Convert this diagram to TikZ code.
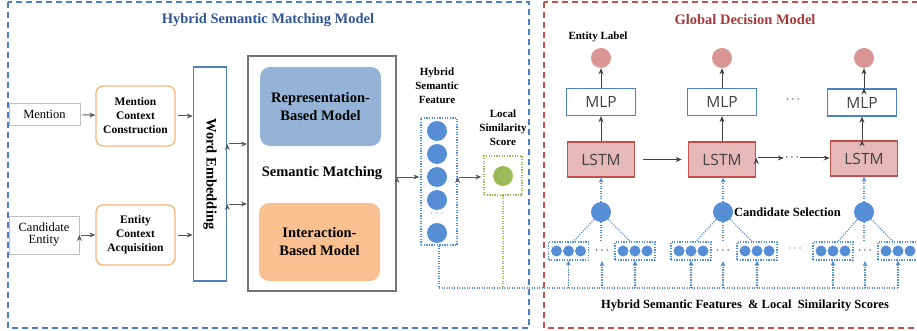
\documentclass[tikz,border=0pt]{standalone}
\usepackage{fontspec}
\setmainfont{Liberation Serif}
\newfontfamily\boxfont{Open Sans}
\usetikzlibrary{arrows.meta}
\definecolor{hsmblue}{HTML}{4A7EC4}
\definecolor{hsmtitle}{HTML}{2F5597}
\definecolor{gdmred}{HTML}{C0504D}
\definecolor{gdmtitle}{HTML}{A5393A}
\definecolor{ctxorange}{HTML}{F8B47A}
\definecolor{repfill}{HTML}{95B3D7}
\definecolor{intfill}{HTML}{FAC090}
\definecolor{embblue}{HTML}{4F81BD}
\definecolor{unitblue}{HTML}{558ED5}
\definecolor{scoregreen}{HTML}{9BBB59}
\definecolor{labelpink}{HTML}{D99694}
\definecolor{lstmfill}{HTML}{E6B9B8}
\definecolor{arrowgray}{HTML}{595959}
\begin{document}
\begin{tikzpicture}[x=1pt,y=-1pt,>={Stealth[length=6pt,width=5pt]}]
        \tikzstyle{region}=[line width=1.2pt,dash pattern=on 6pt off 4pt]
        \tikzstyle{title}=[font=\bfseries\fontsize{14.5}{16}\selectfont]
        \tikzstyle{input}=[draw=black!25,line width=0.8pt,inner sep=0,align=center,font=\fontsize{12.5}{14}\selectfont]
        \tikzstyle{context}=[draw=ctxorange,line width=1.3pt,rounded corners=7pt,inner sep=0,minimum width=79pt,minimum height=60pt,align=center,font=\bfseries\fontsize{11.5}{14}\selectfont]
        \tikzstyle{model}=[rounded corners=10pt,inner sep=0,minimum width=121pt,minimum height=79pt,align=center,font=\bfseries\fontsize{14.5}{18}\selectfont]
        \tikzstyle{featlabel}=[align=center,font=\bfseries\fontsize{11}{14}\selectfont]
        \tikzstyle{unit}=[circle,fill=unitblue,minimum size=20pt,inner sep=0]
        \tikzstyle{smallunit}=[circle,fill=unitblue,minimum size=11pt,inner sep=0]
        \tikzstyle{dotbox}=[draw=unitblue,line width=1.3pt,dash pattern=on 1.3pt off 1.3pt,inner sep=0]
        \tikzstyle{dotline}=[draw=unitblue,line width=1.2pt,dash pattern=on 1.2pt off 1.3pt]
        \tikzstyle{dotarrow}=[dotline,-{Stealth[length=5pt,width=5pt,fill=unitblue,line width=0pt]}]
        \tikzstyle{edge}=[draw=arrowgray,line width=1pt,->]
        \tikzstyle{mlp}=[draw=embblue,line width=1.3pt,fill=white,minimum width=69pt,minimum height=27pt,inner sep=0,font=\boxfont\fontsize{15.5}{16}\selectfont,text=black!75]
        \tikzstyle{lstm}=[draw=gdmred,line width=1.5pt,fill=lstmfill,minimum width=67pt,minimum height=35pt,inner sep=0,font=\boxfont\fontsize{15.5}{16}\selectfont,text=black!75]
        \tikzstyle{entout}=[circle,fill=labelpink,minimum size=20pt,inner sep=0]
        \useasboundingbox (0,0) rectangle (917,331);
       \begin{scope}
         \draw[region,draw=hsmblue] (8,2) rectangle (529,328);
         \node [title,text=hsmtitle] (hsmt) at (268,20) {Hybrid Semantic Matching Model};
         \node [input,minimum width=71pt,minimum height=22pt] (mention) at (44.5,114) {Mention};
         \node [input,minimum width=70pt,minimum height=38pt] (cand) at (44,235) {Candidate\\[-2pt]Entity};
         \node [context] (mcc) at (135.5,116) {Mention\\Context\\Construction};
         \node [context] (eca) at (135.5,235) {Entity\\Context\\Acquisition};
         \node [draw=embblue,line width=1.5pt,minimum width=33pt,minimum height=214pt,inner sep=0] (we) at (210,174) {};
         \node [rotate=-90,font=\bfseries\fontsize{14.5}{16}\selectfont] (wet) at (we.center) {Word Embedding};
         \node [draw=black!55,line width=2pt,minimum width=148pt,minimum height=235pt,inner sep=0] (sm) at (322,173.5) {};
         \node [model,fill=repfill] (rep) at (320.5,106.5) {Representation-\\Based Model};
         \node [model,fill=intfill,minimum height=78pt] (inter) at (319.5,242) {Interaction-\\Based Model};
         \node [font=\bfseries\fontsize{14.5}{16}\selectfont] (smt) at (322,173) {Semantic Matching};
         \node [featlabel] (hsf) at (437,86) {Hybrid\\Semantic\\Feature};
         \node [dotbox,minimum width=36pt,minimum height=127pt] (feat) at (439,181.5) {};
         \node [unit] (f1) at (437,131) {};
         \node [unit] (f2) at (437,154) {};
         \node [unit] (f3) at (437,177) {};
         \node [unit] (f4) at (437,200) {};
         \node [text=unitblue,font=\bfseries\fontsize{13}{13}\selectfont,inner sep=0] (fdots) at (437,214) {$\cdots$};
         \node [unit] (f5) at (437,233) {};
         \node [featlabel] (lss) at (503,128) {Local\\Similarity\\Score};
         \node [dotbox,draw=scoregreen,minimum width=38pt,minimum height=39pt] (score) at (503,175.5) {};
         \node [circle,fill=scoregreen,minimum size=20pt,inner sep=0] (s1) at (503,176) {};
         \coordinate (bus) at (439,288);
         \path[edge] (mention) edge [shorten <=2pt] (mcc);
         \path[edge] (cand.east |- eca) edge [shorten <=2pt] (eca);
         \path[edge] (mcc) edge [shorten <=2pt] (we.west |- mcc);
         \path[edge] (eca) edge [shorten <=2pt] (we.west |- eca);
         \path[edge] (we.east |- 0,144) edge [shorten <=2pt] (sm.west |- 0,144);
         \path[edge] (we.east |- 0,204) edge [shorten <=2pt] (sm.west |- 0,204);
         \path[edge] (sm.east |- f3) edge [shorten >=1pt] (feat.west |- f3);
         \path[edge] (feat.east |- f3) edge [shorten <=1pt,shorten >=2pt] (score.west |- f3);
         \draw[dotline,draw=scoregreen] (score.south) -- (score.south |- bus);
        \end{scope}
       \begin{scope}
         \draw[region,draw=gdmred] (544,2) rectangle (925,328);
         \node [title,text=gdmtitle] (gdmt) at (745,20) {Global Decision Model};
         \node [featlabel] (el) at (598,37) {Entity Label};
         \node [entout] (e1) at (601,58) {};
         \node [entout] (e2) at (722,58) {};
         \node [entout] (e3) at (864,58) {};
         \node [mlp] (m1) at (601,102) {MLP};
         \node [mlp] (m2) at (722,102) {MLP};
         \node [mlp] (m3) at (862,102.5) {MLP};
         \node [font=\bfseries\fontsize{12}{12}\selectfont] (mdots) at (793,100) {$\cdots$};
         \node [lstm] (l1) at (601,159.5) {LSTM};
         \node [lstm] (l2) at (722,159.5) {LSTM};
         \node [lstm] (l3) at (864,158.5) {LSTM};
         \node [font=\bfseries\fontsize{12}{12}\selectfont,inner sep=1pt] (ldots) at (792,158) {$\cdots$};
         \node [unit] (c1) at (601,212) {};
         \node [unit] (c2) at (723,212) {};
         \node [unit] (c3) at (864,212) {};
         \node [anchor=west,font=\bfseries\fontsize{12.5}{14}\selectfont,inner sep=0] (cs) at (734,212) {Candidate Selection};
         \foreach \g/\x in {g1/568.5,g2/635,g3/691,g4/757,g5/833,g6/898} {
           \node [dotbox,minimum width=40pt,minimum height=18pt] (\g) at (\x,251) {};
           \node [smallunit] at (\x-12,251) {};
           \node [smallunit] at (\x,251) {};
           \node [smallunit] at (\x+12,251) {};
         }
         \node [minimum height=20pt,inner sep=0,font=\bfseries\fontsize{12}{12}\selectfont] (d1) at (602,251) {$\cdots$};
         \node [minimum height=20pt,inner sep=0,font=\bfseries\fontsize{12}{12}\selectfont] (d2) at (723,251) {$\cdots$};
         \node [minimum height=20pt,inner sep=0,font=\bfseries\fontsize{12}{12}\selectfont] (d3) at (865,251) {$\cdots$};
         \node [text=unitblue,font=\bfseries\fontsize{13}{13}\selectfont] (gdots) at (795,249) {$\cdots$};
         \node [font=\bfseries\fontsize{12.5}{14}\selectfont] (hsfl) at (745,306) {Hybrid Semantic Features~~\& Local~~Similarity Scores};
         \path[edge,draw=black!75] (m1) edge (e1);
         \path[edge,draw=black!75] (m2) edge (e2);
         \path[edge,draw=black!75] (m3.north -| e3) edge (e3);
         \path[edge,draw=black!75] (l1) edge (m1);
         \path[edge,draw=black!75] (l2) edge (m2);
         \path[edge,draw=black!75] (l3.north -| m3) edge (m3);
         \path[edge,draw=black!75] (l1) edge [shorten <=8pt,shorten >=6pt] (l2);
         \path[edge,draw=black!75] (l2.east |- ldots) edge [shorten <=2pt] (ldots);
         \path[edge,draw=black!75] (ldots) edge (l3.west |- ldots);
         \foreach \c/\l in {c1/l1,c2/l2,c3/l3}
           \draw[dotarrow] (\c) -- (\c |- \l.south);
         \foreach \c/\a/\d/\b in {c1/g1/d1/g2,c2/g3/d2/g4,c3/g5/d3/g6} {
           \draw[dotline] (\c) -- ([xshift=5pt]\a.north);
           \draw[dotline] (\c) -- (\c |- \d.north);
           \draw[dotline] (\c) -- ([xshift=-5pt]\b.north);
         }
         \draw[dotline] (feat.south) -- (bus) -- (bus -| g6);
         \foreach \g in {g1,d1,g2,g3,d2,g4,g5,d3,g6}
           \draw[dotarrow] (\g |- bus) -- (\g.south);
        \end{scope}
      \end{tikzpicture}
\end{document}
